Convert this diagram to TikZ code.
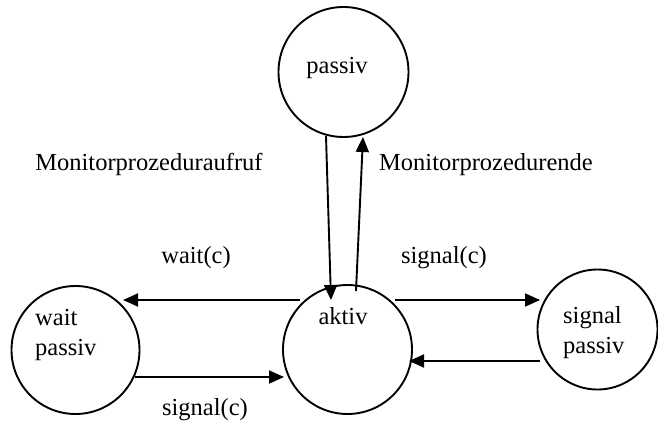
\documentclass[tikz,border=0pt]{standalone}
\usepackage{fontspec}
\setmainfont{Liberation Serif}
\usetikzlibrary{arrows.meta}
\begin{document}
\begin{tikzpicture}[x=1pt,y=-1pt,
  state/.style={circle,draw,line width=1.9pt,inner sep=0pt},
  lbl/.style={inner sep=0pt,font=\fontsize{24.5}{29}\selectfont},
  flow/.style={line width=1.9pt,-{Triangle[length=15pt,width=13pt]}}]
\useasboundingbox (0,0) rectangle (658,422);

% states
\node[state,minimum size=130pt] (passiv) at (343.5,72) {};
\node[state,minimum size=129pt] (aktiv) at (347.5,349.5) {};
\node[state,minimum size=128pt] (waitp) at (75.5,350) {};
\node[state,minimum size=120pt] (sigp) at (597.5,329.5) {};

% state texts
\node[lbl,anchor=base] (tpassiv) at (337,74) {passiv};
\node[lbl,anchor=base] (taktiv) at (343,324) {aktiv};
\node[lbl,anchor=base west] (twait) at (35,325) {wait};
\node[lbl,anchor=base west] (twaitp) at (35,355) {passiv};
\node[lbl,anchor=base west] (tsig) at (563,323) {signal};
\node[lbl,anchor=base west] (tsigp) at (563,353) {passiv};

% connector end points
\coordinate (pa1) at (326,136);
\coordinate (pa2) at (331,300);
\coordinate (ap1) at (356,291);
\coordinate (ap2) at (363,137);
\coordinate (aw1) at (300,300);
\coordinate (aw2) at (123,300);
\coordinate (as1) at (395,300);
\coordinate (as2) at (540,300);
\coordinate (sa1) at (540,361);
\coordinate (sa2) at (409,361);
\coordinate (wa1) at (135,377);
\coordinate (wa2) at (284,377);

% transitions
\draw[flow] (pa1) -- (pa2);
\draw[flow] (ap1) -- (ap2);
\draw[flow] (aw1) -- (aw2);
\draw[flow] (as1) -- (as2);
\draw[flow] (sa1) -- (sa2);
\draw[flow] (wa1) -- (wa2);

% transition labels
\node[lbl,anchor=base] (lcall) at (149,171) {Monitorprozeduraufruf};
\node[lbl,anchor=base] (lend) at (486,171) {Monitorprozedurende};
\node[lbl,anchor=base] (lwait) at (196,263) {wait(c)};
\node[lbl,anchor=base] (lsig) at (444,263) {signal(c)};
\node[lbl,anchor=base] (lsig2) at (205,415) {signal(c)};
\end{tikzpicture}
\end{document}
